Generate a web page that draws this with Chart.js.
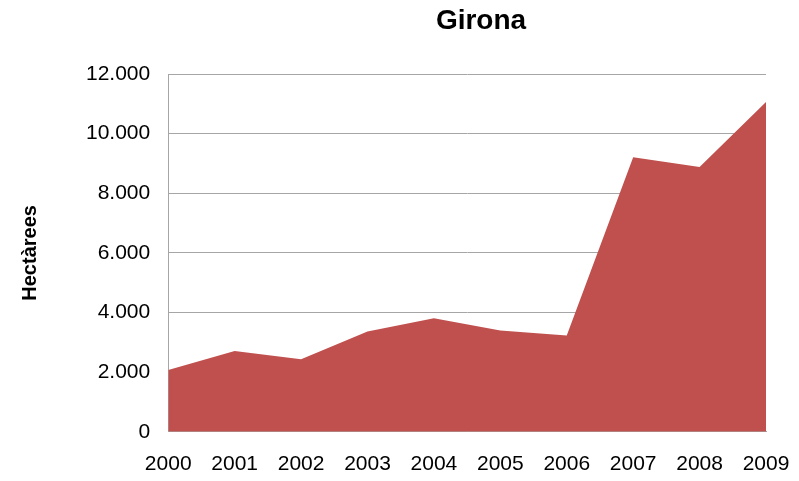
<!DOCTYPE html>
<html>
<head>
<meta charset="utf-8">
<script src="https://cdn.jsdelivr.net/npm/chart.js@4"></script>
<style>
  html, body { margin: 0; padding: 0; background: #fff; }
  #wrap { width: 799px; height: 481px; }
</style>
</head>
<body>
<div id="wrap"><canvas id="chart" width="799" height="481"></canvas></div>
<script>
const anys = ['2000','2001','2002','2003','2004','2005','2006','2007','2008','2009'];
const hectarees = [2070, 2710, 2430, 3360, 3810, 3400, 3230, 9210, 8880, 11060];
const titol = 'Girona';
const titolEix = 'Hectàrees';

function fmt(v){
    // punt com a separador de milers
    return String(v).replace(/\B(?=(\d{3})+(?!\d))/g, '.');
}

const titolPlugin = {
    id: 'titolPlugin',
    afterDraw(chart){
        const ctx = chart.ctx;
        ctx.save();
        ctx.font = 'bold 28px "Liberation Sans", Arial, sans-serif';
        ctx.fillStyle = '#000';
        ctx.textAlign = 'center';
        ctx.textBaseline = 'middle';
        ctx.fillText(titol, 481, 21);
        ctx.restore();
    }
};

new Chart(document.getElementById('chart'), {
    type: 'line',
    data: {
        labels: anys,
        datasets: [{
            data: hectarees,
            fill: 'origin',
            backgroundColor: '#C0504D',
            borderColor: '#C0504D',
            borderWidth: 0,
            pointRadius: 0,
            tension: 0
        }]
    },
    options: {
        responsive: false,
        animation: false,
        events: [],
        layout: { padding: { top: 74, left: 18, right: 33, bottom: 4 } },
        plugins: {
            legend: { display: false },
            tooltip: { enabled: false }
        },
        scales: {
            x: {
                offset: false,
                grid: { display: false, drawTicks: false },
                border: { color: '#a6a6a6', width: 1 },
                ticks: {
                    color: '#000',
                    padding: 20,
                    maxRotation: 0,
                    font: { family: '"Liberation Sans", Arial, sans-serif', size: 21 }
                },
                afterFit(s){
                    // el padding es compta dues vegades a l'alçada
                    s.height -= s.options.ticks.padding;
                    s.paddingRight = 0;
                    s.paddingLeft = 0;
                }
            },
            y: {
                min: 0,
                max: 12000,
                grid: { color: '#a6a6a6', drawTicks: false },
                border: { color: '#a6a6a6', width: 1 },
                ticks: {
                    stepSize: 2000,
                    color: '#000',
                    padding: 18,
                    callback: v => fmt(v),
                    font: { family: '"Liberation Sans", Arial, sans-serif', size: 21 }
                },
                title: {
                    display: true,
                    text: titolEix,
                    color: '#000',
                    padding: { top: 0, bottom: 26 },
                    font: { family: '"Liberation Sans", Arial, sans-serif', size: 20, weight: 'bold' }
                }
            }
        }
    },
    plugins: [titolPlugin]
});
</script>
</body>
</html>
